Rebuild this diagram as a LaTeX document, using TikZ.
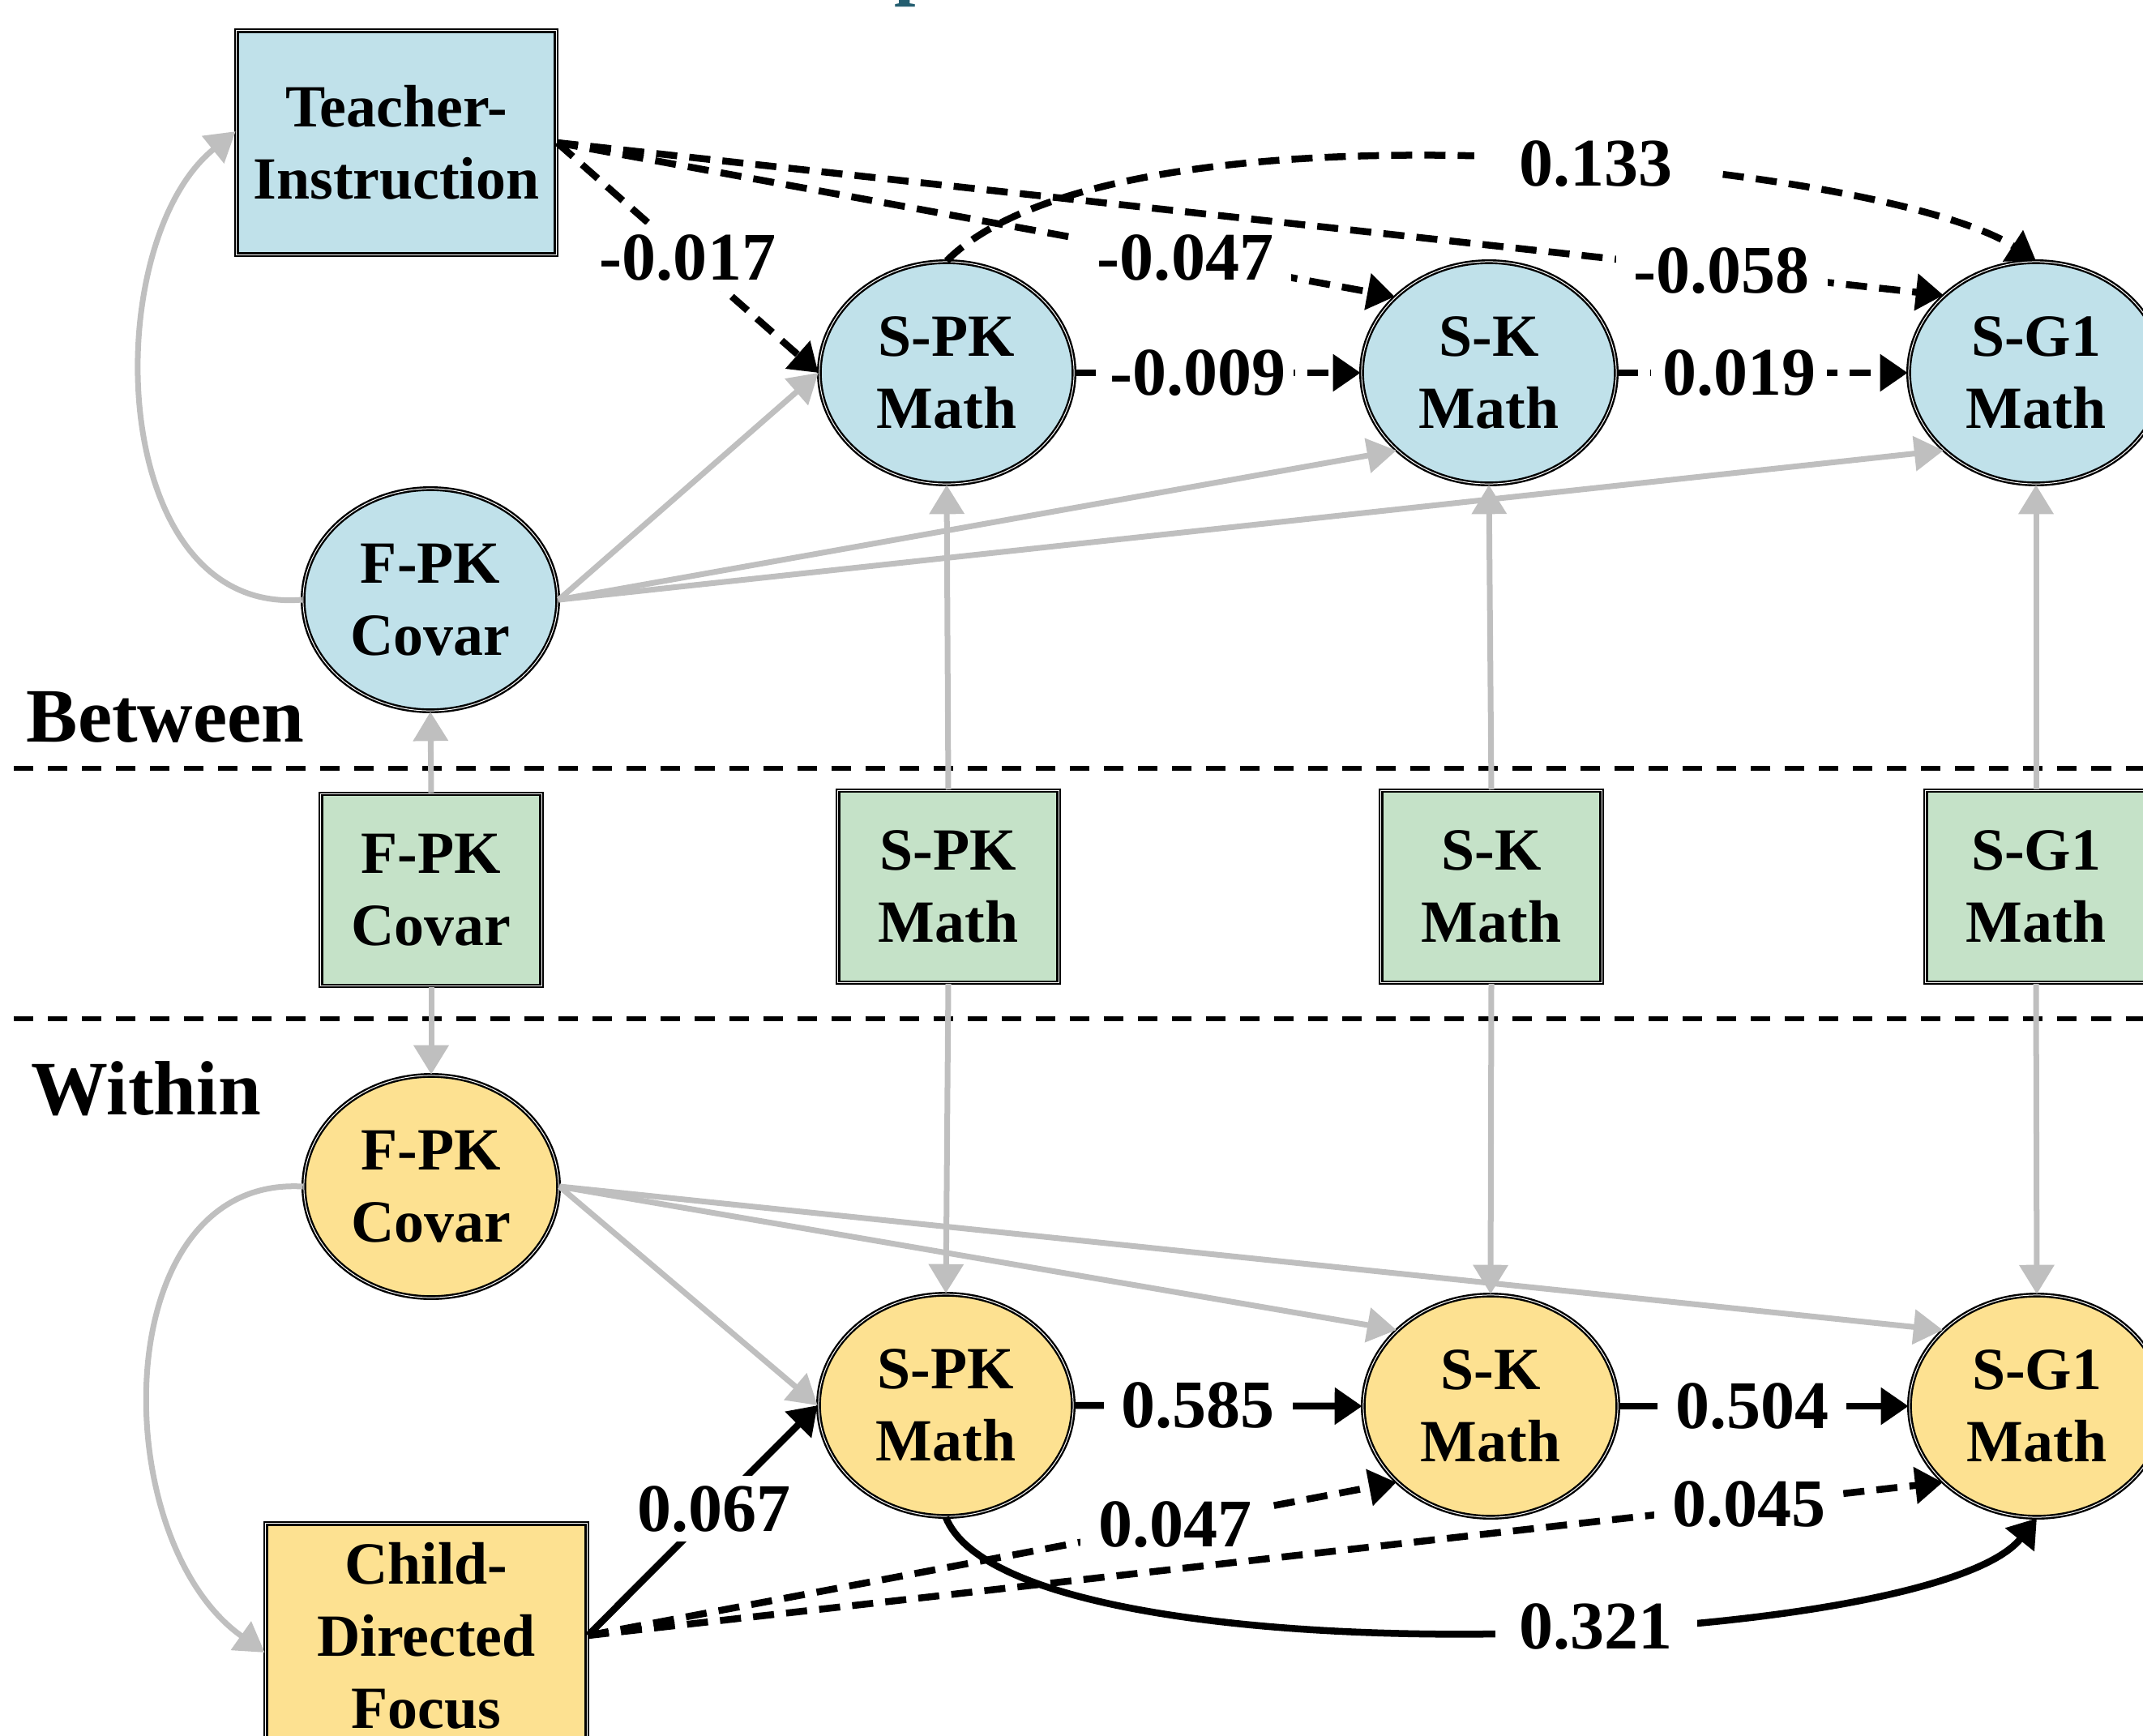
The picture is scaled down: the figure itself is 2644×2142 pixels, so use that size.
\documentclass[tikz,border=0pt]{standalone}
\usepackage{fontspec}
\setmainfont{Liberation Serif}
\usetikzlibrary{arrows.meta,shapes.geometric}
\definecolor{bluefill}{RGB}{192,225,234}
\definecolor{greenfill}{RGB}{197,226,200}
\definecolor{yellowfill}{RGB}{253,225,145}
\definecolor{grayline}{RGB}{191,191,191}
\definecolor{tealtitle}{RGB}{36,94,112}
\newcommand{\nodefnt}{\fontsize{21pt}{25.3pt}\selectfont\bfseries}
\newcommand{\lblfnt}{\fontsize{23.9pt}{27pt}\selectfont\bfseries}
\newcommand{\secfnt}{\fontsize{27pt}{30pt}\selectfont\bfseries}
\begin{document}
\begin{tikzpicture}[x=0.01cm,y=-0.01cm,
  latent/.style={ellipse, draw=black, line width=0.024cm, double=white, double distance=0.01cm,
    minimum width=3.14cm, minimum height=2.74cm, inner sep=0pt, align=center, font=\nodefnt},
  obsbox/.style={rectangle, draw=black, line width=0.024cm, double=white, double distance=0.01cm,
    inner sep=0pt, align=center, font=\nodefnt},
  gpath/.style={draw=grayline, line width=0.07cm, -{Triangle[length=0.36cm,width=0.42cm]}},
  bpath/.style={draw=black, line width=0.085cm, -{Triangle[length=0.34cm,width=0.44cm]}},
  dpath/.style={bpath, dash pattern=on 0.26cm off 0.15cm},
  lbl/.style={fill=white, inner xsep=0.22cm, inner ysep=0.12cm, font=\lblfnt},
  divider/.style={draw=black, line width=0.055cm, dash pattern=on 0.24cm off 0.18cm},
  sectionlbl/.style={font=\secfnt, inner sep=0pt, anchor=base west}
]
\useasboundingbox (0,0) rectangle (2644,2142);

% title fragment
\node[font=\secfnt, text=tealtitle, inner sep=0pt, anchor=base west] (titlefrag) at (1103,-12) {p};

% dividers
\coordinate (d1l) at (17,948); \coordinate (d1r) at (2660,948);
\coordinate (d2l) at (17,1257); \coordinate (d2r) at (2660,1257);
\draw[divider] (d1l) -- (d1r);
\draw[divider] (d2l) -- (d2r);

% section labels
\node[sectionlbl] (between) at (32,915) {Between};
\node[sectionlbl] (within) at (38,1375) {Within};

% between level nodes
\node[obsbox, fill=bluefill, minimum width=3.94cm, minimum height=2.76cm] (teacher) at (489,176) {Teacher-\\Instruction};
\node[latent, fill=bluefill] (spkB) at (1168,460) {S-PK\\Math};
\node[latent, fill=bluefill] (skB) at (1837,460) {S-K\\Math};
\node[latent, fill=bluefill] (sgB) at (2512,460) {S-G1\\Math};
\node[latent, fill=bluefill] (fpkB) at (531,740) {F-PK\\Covar};

% observed (green) nodes
\node[obsbox, fill=greenfill, minimum width=2.72cm, minimum height=2.37cm] (gfpk) at (532,1098) {F-PK\\Covar};
\node[obsbox, fill=greenfill, minimum width=2.72cm, minimum height=2.37cm] (gspk) at (1170,1094) {S-PK\\Math};
\node[obsbox, fill=greenfill, minimum width=2.72cm, minimum height=2.37cm] (gsk) at (1840,1094) {S-K\\Math};
\node[obsbox, fill=greenfill, minimum width=2.72cm, minimum height=2.37cm] (gsg) at (2512,1094) {S-G1\\Math};

% within level nodes
\node[latent, fill=yellowfill] (fpkW) at (532,1464) {F-PK\\Covar};
\node[latent, fill=yellowfill] (spkW) at (1167,1734) {S-PK\\Math};
\node[latent, fill=yellowfill] (skW) at (1839,1735) {S-K\\Math};
\node[latent, fill=yellowfill] (sgW) at (2513,1735) {S-G1\\Math};
\node[obsbox, fill=yellowfill, minimum width=3.96cm, minimum height=2.76cm] (child) at (526,2018) {Child-\\Directed\\Focus};

% gray paths
\draw[gpath] (fpkB.west) .. controls (130,760) and (120,300) .. (teacher.176);
\draw[gpath] (fpkB.east) -- (spkB.west);
\draw[gpath] (fpkB.east) -- (skB.220);
\draw[gpath] (fpkB.east) -- (sgB.220);
\draw[gpath] (gfpk.north) -- (fpkB.south);
\draw[gpath] (gspk.north) -- (spkB.south);
\draw[gpath] (gsk.north) -- (skB.south);
\draw[gpath] (gsg.north) -- (sgB.south);
\draw[gpath] (gfpk.south) -- (fpkW.north);
\draw[gpath] (gspk.south) -- (spkW.north);
\draw[gpath] (gsk.south) -- (skW.north);
\draw[gpath] (gsg.south) -- (sgW.north);
\draw[gpath] (fpkW.west) .. controls (130,1450) and (130,1900) .. (child.186);
\draw[gpath] (fpkW.east) -- (spkW.west);
\draw[gpath] (fpkW.east) -- (skW.141);
\draw[gpath] (fpkW.east) -- (sgW.141);

% between black paths
\draw[dpath] (teacher.east) -- node[lbl,pos=0.5]{-0.017} (spkB.west);
\draw[dpath] (teacher.east) -- node[lbl,pos=0.75]{-0.047} (skB.141);
\draw[dpath] (teacher.east) -- node[lbl,pos=0.84]{-0.058} (sgB.140);
\draw[dpath] (spkB.north) .. controls (1384,107) and (2322,199) .. node[lbl,pos=0.57,inner xsep=0.55cm]{0.133} (sgB.north);
\draw[dpath] (spkB.east) -- node[lbl,pos=0.43,inner xsep=0.1cm]{-0.009} (skB.west);
\draw[dpath] (skB.east) -- node[lbl,pos=0.42,inner xsep=0.14cm]{0.019} (sgB.west);

% within black paths
\draw[bpath] (spkW.east) -- node[lbl,pos=0.43]{0.585} (skW.west);
\draw[bpath] (skW.east) -- node[lbl,pos=0.46]{0.504} (sgW.west);
\draw[bpath] (child.east) -- node[lbl,pos=0.55]{0.067} (spkW.west);
\draw[dpath] (child.east) -- node[lbl,pos=0.726]{0.047} (skW.219);
\draw[dpath] (child.east) -- node[lbl,pos=0.857]{0.045} (sgW.219);
\draw[bpath] (spkW.south) .. controls (1250,2080) and (2380,2040) .. node[lbl,pos=0.58,inner xsep=0.3cm]{0.321} (sgW.south);
\end{tikzpicture}
\end{document}
